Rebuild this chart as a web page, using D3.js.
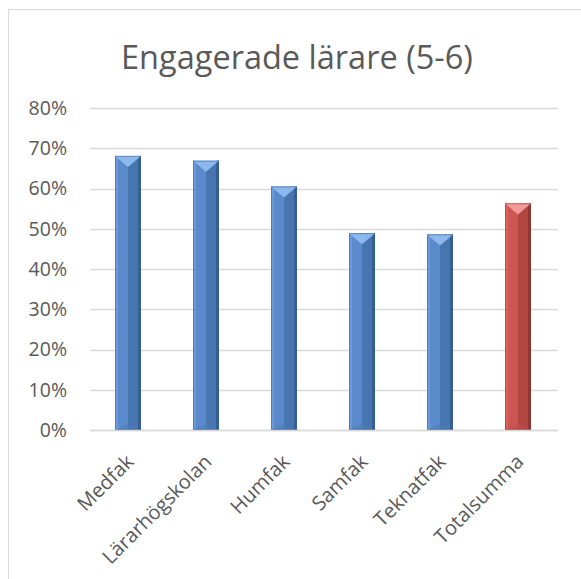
<!DOCTYPE html>
<html>
<head>
<meta charset="utf-8">
<script src="https://cdn.jsdelivr.net/npm/d3@7"></script>
<style>
  body { margin: 0; background: #fff; }
  svg text { font-family: "Open Sans", "Liberation Sans", sans-serif; fill: #595959; }
</style>
</head>
<body>
<script>
//chart data
var categories = ["Medfak", "Lärarhögskolan", "Humfak", "Samfak", "Teknatfak", "Totalsumma"];
var values = [0.681, 0.669, 0.605, 0.489, 0.486, 0.563];
var yTicks = [0, 0.1, 0.2, 0.3, 0.4, 0.5, 0.6, 0.7, 0.8];
var title = "Engagerade lärare (5-6)";

//frame dimensions
var width = 581,
    height = 579;

var svg = d3.select("body")
    .append("svg")
    .attr("width", width)
    .attr("height", height);

//chart border (runs off right and bottom)
svg.append("rect")
    .attr("x", 8.5).attr("y", 9.5)
    .attr("width", 600).attr("height", 600)
    .attr("fill", "#fff")
    .attr("stroke", "#d9d9d9");

var plot = { left: 90, right: 558, top: 108, bottom: 430 };

var x = d3.scaleBand()
    .domain(categories)
    .range([plot.left, plot.right]);

var y = d3.scaleLinear()
    .domain([0, 0.8])
    .range([plot.bottom, plot.top]);

//colours for bevel bars
var palettes = {
    blue: { light: "#8db8ee", left: "#6b9ad8", mid: "#5a8acb", right: "#4775b0", edge: "#355e94", bot: "#4c7cb8" },
    red:  { light: "#f39a98", left: "#d8625f", mid: "#cd5653", right: "#b24643", edge: "#903734", bot: "#be4f4c" }
};

//gridlines
svg.selectAll(".grid")
    .data(yTicks)
    .enter()
    .append("line")
    .attr("class", "grid")
    .attr("x1", plot.left).attr("x2", plot.right)
    .attr("y1", function(d){ return Math.round(y(d)) + 0.5; })
    .attr("y2", function(d){ return Math.round(y(d)) + 0.5; })
    .attr("stroke", "#d9d9d9")
    .attr("stroke-width", 1.5);

//y axis labels
var yAxis = d3.axisLeft(y)
    .tickValues(yTicks)
    .tickFormat(d3.format(".0%"))
    .tickSize(0)
    .tickPadding(23);

var yg = svg.append("g")
    .attr("transform", "translate(" + plot.left + ",0)")
    .call(yAxis);
yg.select(".domain").remove();
yg.selectAll("text")
    .attr("font-size", 19.5)
    .attr("fill", "#595959")
    .style("font-family", "'Open Sans', sans-serif");

//bars
var barW = 26;
var bars = svg.selectAll(".bar")
    .data(categories)
    .enter()
    .append("g")
    .attr("class", "bar");

bars.each(function(c, i){
    var g = d3.select(this);
    var p = c === "Totalsumma" ? palettes.red : palettes.blue;
    var cx = x(c) + x.bandwidth() / 2 - 1;
    var x0 = cx - barW / 2, x1 = cx + barW / 2;
    var top = y(values[i]), bot = y(0);
    var tri = 11, e = 3;

    //left half face
    g.append("rect").attr("x", x0).attr("y", top).attr("width", barW / 2).attr("height", bot - top).attr("fill", p.mid);
    //right half face
    g.append("rect").attr("x", cx).attr("y", top).attr("width", barW / 2).attr("height", bot - top).attr("fill", p.right);
    //left edge highlight
    g.append("rect").attr("x", x0).attr("y", top).attr("width", e).attr("height", bot - top).attr("fill", p.left);
    //right edge shadow
    g.append("rect").attr("x", x1 - e).attr("y", top).attr("width", e).attr("height", bot - top).attr("fill", p.edge);
    //bottom bevel
    g.append("path")
        .attr("d", "M" + x0 + "," + bot + "L" + cx + "," + (bot - 6) + "L" + x1 + "," + bot + "Z")
        .attr("fill", p.bot).attr("opacity", 0.6);
    //top triangle
    g.append("path")
        .attr("d", "M" + x0 + "," + top + "L" + x1 + "," + top + "L" + cx + "," + (top + tri) + "Z")
        .attr("fill", p.light);
    //outline
    g.append("rect").attr("x", x0 + 0.5).attr("y", top + 0.5).attr("width", barW - 1).attr("height", bot - top - 1)
        .attr("fill", "none").attr("stroke", p.edge).attr("stroke-opacity", 0.5);
});

//baseline
svg.append("line")
    .attr("x1", plot.left).attr("x2", plot.right)
    .attr("y1", plot.bottom + 0.5).attr("y2", plot.bottom + 0.5)
    .attr("stroke", "#d9d9d9").attr("stroke-width", 1.5);

//x axis labels, rotated
var xAxis = d3.axisBottom(x).tickSize(0).tickPadding(0);
var xg = svg.append("g")
    .attr("transform", "translate(0," + plot.bottom + ")")
    .call(xAxis);
xg.select(".domain").remove();
xg.selectAll("text")
    .attr("font-size", 20)
    .attr("fill", "#595959")
    .style("font-family", "'Open Sans', sans-serif")
    .attr("text-anchor", "end")
    .attr("dy", "0.35em")
    .attr("transform", "translate(1,28) rotate(-45)");

//title
svg.append("text")
    .attr("x", 297)
    .attr("y", 69)
    .attr("text-anchor", "middle")
    .attr("font-size", 32.5)
    .text(title);
</script>
</body>
</html>
